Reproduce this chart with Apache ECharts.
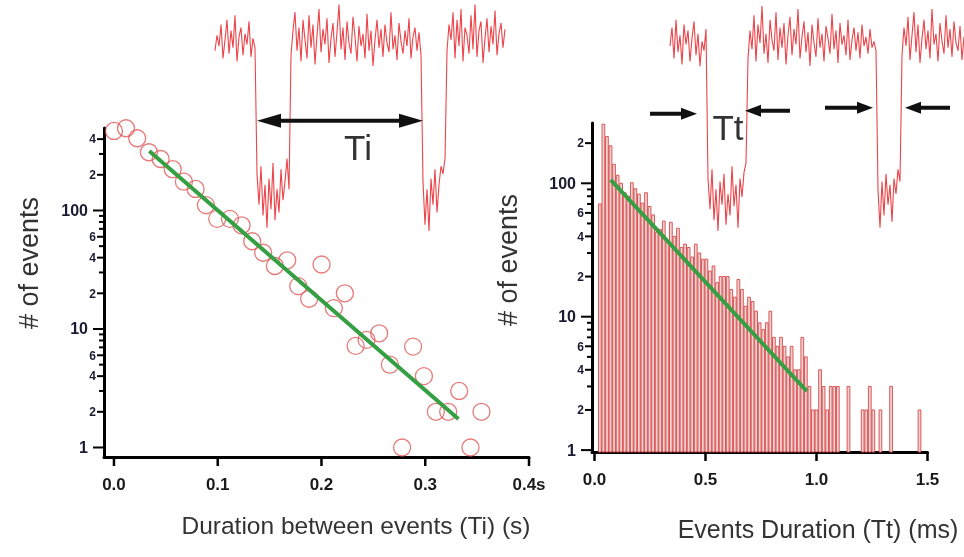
<!DOCTYPE html>
<html><head><meta charset="utf-8">
<script src="https://cdn.jsdelivr.net/npm/echarts@6/dist/echarts.min.js"></script>
<style>html,body{margin:0;padding:0;background:#fff}#c{width:964px;height:557px}</style>
</head><body><div id="c"></div>
<script>
// ---------------- DATA ----------------
// Left panel: duration between events (s) vs # of events
const tiDuration = [0.000,0.0116,0.0224,0.0337,0.0450,0.0566,0.0674,0.0787,0.0886,0.0995,0.1118,0.1230,0.1332,0.1438,0.1551,0.1670,0.2001,0.1776,0.1881,0.2119,0.2225,0.2329,0.2434,0.2556,0.2659,0.2883,0.2987,0.2777,0.3102,0.3221,0.3327,0.3436,0.3542];
const tiEvents   = [469,494,407,310,272,223,175,152,111,85,85,75,55,44,34,38,35,23,18,15,20,7.2,8.1,9.2,5.0,7.1,4.0,1,2,2,3,1,2];
const tiFitX = [0.034, 0.332];
const tiFitY = [318, 1.74];

// Right panel: histogram of event durations (ms)
const ttBinWidth = 0.016;
const ttCounts = [0,70,277,224,191,139,115,100,85,80,
                  101,91,83,71,85,67,58,43,45,52,
                  36,51,40,46,33,35,33,28,35,30,
                  27,27,22,24,18,20,20,20,16,14,
                  19,16,12,14,13,11,9,8,9,11,
                  7,6,7,6,5,6,4,4,7,5,
                  3,2,2,4,3,2,3,3,3,0,
                  0,3,0,0,0,2,2,3,2,0,
                  2,0,0,3,0,0,0,0,0,0,
                  0,2,0,0];
const ttFitX = [0.073, 0.956];
const ttFitY = [106, 2.77];

// Tick values and labels
const leftXTicks  = [0, 0.1, 0.2, 0.3, 0.4];
const leftXLabels = ['0.0','0.1','0.2','0.3','0.4s'];
const rightXTicks  = [0, 0.5, 1.0, 1.5];
const rightXLabels = ['0.0','0.5','1.0','1.5'];
const leftYTicks  = [1,2,3,4,5,6,7,8,9,10,20,30,40,50,60,70,80,90,100,200,300,400];
const leftYLabels = ['1','2','','4','','6','','','','10','2','','4','','6','','','','100','2','','4'];
const rightYTicks  = [1,2,3,4,5,6,7,8,9,10,20,30,40,50,60,70,80,90,100,200];
const rightYLabels = ['1','2','','4','','6','','','','10','2','','4','','6','','','','100','2'];

// Current traces (normalised current, open level ~1, blocked ~0), one sample per step
const trace1Current = [
 0.95,1.05,0.98,1.12,0.90,1.02,1.15,0.93,1.08,0.97,
 1.18,0.88,1.04,1.10,0.92,1.06,0.99,1.14,0.91,1.03,
 0.97,
 0.15,-0.05,0.20,-0.12,0.08,-0.20,0.12,-0.08,0.22,-0.15,
 0.05,-0.10,0.18,-0.02,0.10,0.25,0.05,
 0.92,1.08,1.20,0.95,1.10,0.88,1.15,1.02,0.90,1.18,
 0.97,1.12,0.86,1.05,1.22,0.94,1.09,0.99,1.16,0.87,
 1.03,1.13,0.91,1.07,1.25,0.96,1.10,0.89,1.14,1.00,
 0.93,1.17,1.04,0.88,1.11,0.98,1.06,0.90,1.19,0.95,
 1.08,0.85,1.02,1.15,0.97,1.09,0.91,1.12,1.00,0.94,
 1.20,0.96,1.05,0.89,1.13,1.01,0.93,1.08,0.98,1.16,
 0.90,1.04,1.10,0.95,1.07,0.92,
 0.10,-0.18,0.05,-0.22,0.12,-0.05,0.18,-0.10,0.08,0.20,0.15,0.25,
 0.95,1.12,1.02,1.20,0.90,1.15,0.98,1.22,0.88,1.10,
 1.05,0.93,1.18,0.96,1.25,0.91,1.08,1.14,0.87,1.03,
 1.16,0.94,1.11,0.99,1.21,0.92,1.06,1.13,0.97,1.09];
const trace2Current = [
 0.98,1.10,0.90,1.15,0.94,1.05,0.86,1.12,0.99,1.08,
 0.88,1.03,1.14,0.92,1.06,0.85,1.01,0.95,1.09,
 0.12,-0.08,0.18,-0.15,0.05,-0.22,0.10,-0.05,0.15,-0.18,
 0.02,-0.12,0.20,-0.06,0.08,-0.20,0.12,0.00,0.16,0.22,
 0.90,1.08,0.96,1.18,0.88,1.12,1.00,1.24,0.93,1.06,
 0.87,1.15,1.02,0.95,1.20,0.89,1.10,0.97,1.13,0.86,
 1.05,1.17,0.92,1.09,0.99,1.22,0.90,1.04,1.14,0.94,
 1.07,0.85,1.12,1.00,0.91,1.16,0.97,1.06,0.88,1.11,
 1.03,0.93,1.19,0.96,1.08,0.87,1.13,0.99,1.05,0.92,
 1.15,0.89,1.02,1.10,0.95,1.07,0.90,1.12,0.98,1.04,
 0.93,1.09,0.97,1.01,0.95,
 0.05,-0.20,0.10,-0.12,0.15,-0.05,0.08,-0.16,0.12,0.02,0.18,0.10,
 0.92,1.10,0.98,1.17,0.89,1.05,1.20,0.94,1.12,0.87,
 1.03,1.15,0.96,1.08,0.90,1.22,0.99,1.06,0.88,1.13,
 1.01,0.93,1.18,0.97,1.09,0.91,1.14,1.00,0.95,1.11,
 0.89,1.04];

// Annotation arrows: [from sample, to sample (tip), level, double-headed]
const tiArrows = [[21, 104, 0.495, 1]];
const ttArrows = [[-10, 13.5, 0.54, 0], [60, 37.5, 0.56, 0], [77.5, 101.5, 0.58, 0], [140, 117.5, 0.58, 0]];
const tiText = [[71.5, 0.30, 'Ti']];
const ttText = [[29, 0.43, 'Tt']];

// ---------------- CHART ----------------
const lg = v => Math.log10(v);
const L = {xMin:-0.0096, xMax:0.4, yMin:-0.0802, yMax:2.696};
const R = {xMin:-0.0113, xMax:1.5, yMin:-0.0142, yMax:2.452};
const FONT = '"Liberation Sans", Arial, sans-serif';

function yTickSeries(idx, vals, labels, xMin) {
  return {type:'custom', xAxisIndex:idx, yAxisIndex:idx, clip:false, silent:true, z:6,
    data: vals.map(v => [xMin, lg(v)]),
    renderItem(params, api) {
      const lab = labels[params.dataIndex];
      const p = api.coord([api.value(0), api.value(1)]);
      const major = (lab === '1' || lab === '10' || lab === '100');
      const len = major ? 11 : (lab ? 7 : 5);
      const ch = [{type:'line', shape:{x1:p[0]-len, y1:p[1], x2:p[0], y2:p[1]}, style:{stroke:'#000', lineWidth:2}}];
      if (lab) ch.push({type:'text', style:{text:lab, x:p[0]-len-(major?5:1), y:p[1]+1, align:'right', verticalAlign:'middle',
        font:'bold ' + (major?16:12) + 'px ' + FONT, fill:'#1a1a30'}});
      return {type:'group', children:ch};
    }};
}
function xTickSeries(idx, vals, labels, yMin) {
  return {type:'custom', xAxisIndex:idx, yAxisIndex:idx, clip:false, silent:true, z:6,
    data: vals.map(v => [v, yMin]),
    renderItem(params, api) {
      const p = api.coord([api.value(0), api.value(1)]);
      return {type:'group', children:[
        {type:'line', shape:{x1:p[0], y1:p[1], x2:p[0], y2:p[1]+9}, style:{stroke:'#000', lineWidth:2.5}},
        {type:'text', style:{text:labels[params.dataIndex], x:p[0], y:p[1]+28, align:'center', verticalAlign:'middle',
          font:'bold 17px ' + FONT, fill:'#1a1a1a'}}
      ]};
    }};
}
function arrowSeries(idx, rows, headL, headW) {
  return {type:'custom', xAxisIndex:idx, yAxisIndex:idx, clip:false, silent:true, z:7,
    data: rows,
    renderItem(params, api) {
      const a = api.coord([api.value(0), api.value(2)]);
      const b = api.coord([api.value(1), api.value(2)]);
      const dbl = api.value(3) === 1;
      const dx = b[0]-a[0], dy = b[1]-a[1], d = Math.hypot(dx, dy) || 1;
      const ux = dx/d, uy = dy/d, nx = -uy, ny = ux;
      const head = (tip, sx, sy) => ({type:'polygon', shape:{points:[
        tip, [tip[0]-sx*headL + nx*headW, tip[1]-sy*headL + ny*headW],
        [tip[0]-sx*headL - nx*headW, tip[1]-sy*headL - ny*headW]]}, style:{fill:'#111'}});
      const start = dbl ? [a[0]+ux*headL*0.8, a[1]+uy*headL*0.8] : a;
      const end = [b[0]-ux*headL*0.8, b[1]-uy*headL*0.8];
      const ch = [{type:'line', shape:{x1:start[0], y1:start[1], x2:end[0], y2:end[1]}, style:{stroke:'#111', lineWidth:4}}, head(b, ux, uy)];
      if (dbl) ch.push(head(a, -ux, -uy));
      return {type:'group', children:ch};
    }};
}
function textSeries(idx, rows) {
  return {type:'custom', xAxisIndex:idx, yAxisIndex:idx, clip:false, silent:true, z:7,
    data: rows.map(r => [r[0], r[1]]),
    renderItem(params, api) {
      const p = api.coord([api.value(0), api.value(1)]);
      return {type:'text', style:{text:rows[params.dataIndex][2], x:p[0], y:p[1], align:'center', verticalAlign:'middle',
        font:'35px ' + FONT, fill:'#333'}};
    }};
}

const axisLine = {show:true, onZero:false, lineStyle:{color:'#000', width:3}};
const hidden = {axisTick:{show:false}, axisLabel:{show:false}, splitLine:{show:false}};

const option = {
  animation:false,
  backgroundColor:'#fff',
  grid:[
    {left:104, top:128, width:425, height:329},
    {left:592, top:123, width:335.5, height:329},
    {left:215, top:0, width:290, height:250},
    {left:640, top:0, width:324, height:250}
  ],
  xAxis:[
    Object.assign({gridIndex:0, type:'value', min:L.xMin, max:L.xMax, axisLine}, hidden),
    Object.assign({gridIndex:1, type:'value', min:R.xMin, max:R.xMax, axisLine}, hidden),
    {gridIndex:2, type:'value', min:0, max:trace1Current.length-1, show:false},
    {gridIndex:3, type:'value', min:-15, max:trace2Current.length-1, show:false}
  ],
  yAxis:[
    Object.assign({gridIndex:0, type:'value', min:L.yMin, max:L.yMax, axisLine}, hidden),
    Object.assign({gridIndex:1, type:'value', min:R.yMin, max:R.yMax, axisLine}, hidden),
    {gridIndex:2, type:'value', min:-0.344, max:1.279, show:false},
    {gridIndex:3, type:'value', min:-0.344, max:1.279, show:false}
  ],
  graphic:[
    {type:'text', x:31, y:263, rotation:Math.PI/2, style:{text:'# of events', font:'27px ' + FONT, fill:'#333', align:'center', verticalAlign:'middle'}},
    {type:'text', x:510, y:260, rotation:Math.PI/2, style:{text:'# of events', font:'27px ' + FONT, fill:'#333', align:'center', verticalAlign:'middle'}},
    {type:'text', x:356, y:527, style:{text:'Duration between events (Ti) (s)', font:'24.5px ' + FONT, fill:'#333', align:'center', verticalAlign:'middle'}},
    {type:'text', x:818, y:531, style:{text:'Events Duration (Tt) (ms)', font:'25px ' + FONT, fill:'#333', align:'center', verticalAlign:'middle'}}
  ],
  series:[
    {type:'scatter', xAxisIndex:0, yAxisIndex:0, symbol:'circle', symbolSize:17, z:3,
      itemStyle:{color:'rgba(0,0,0,0)', borderColor:'#e05858', borderWidth:1.3},
      data: tiDuration.map((x,i) => [x, lg(tiEvents[i])])},
    {type:'line', xAxisIndex:0, yAxisIndex:0, symbol:'none', z:4,
      lineStyle:{color:'#35a043', width:4},
      data: tiFitX.map((x,i) => [x, lg(tiFitY[i])])},
    {type:'custom', xAxisIndex:1, yAxisIndex:1, z:2, silent:true,
      data: ttCounts.map((c,k) => [k*ttBinWidth, (k+1)*ttBinWidth, c]).filter(r => r[2] > 0),
      renderItem(params, api) {
        const top = api.coord([api.value(0), lg(api.value(2))]);
        const bot = api.coord([api.value(1), R.yMin]);
        return {type:'rect', shape:{x:top[0]+0.4, y:top[1], width:bot[0]-top[0]-0.8, height:bot[1]-top[1]},
          style:{fill:'#f6d2d2', stroke:'#d44848', lineWidth:0.9}};
      }},
    {type:'line', xAxisIndex:1, yAxisIndex:1, symbol:'none', z:4,
      lineStyle:{color:'#35a043', width:4},
      data: ttFitX.map((x,i) => [x, lg(ttFitY[i])])},
    yTickSeries(0, leftYTicks, leftYLabels, L.xMin),
    yTickSeries(1, rightYTicks, rightYLabels, R.xMin),
    xTickSeries(0, leftXTicks, leftXLabels, L.yMin),
    xTickSeries(1, rightXTicks, rightXLabels, R.yMin),
    {type:'line', xAxisIndex:2, yAxisIndex:2, symbol:'none', z:5,
      lineStyle:{color:'#ec4449', width:1.1},
      data: trace1Current.map((v,i) => [i, v])},
    {type:'line', xAxisIndex:3, yAxisIndex:3, symbol:'none', z:5,
      lineStyle:{color:'#ec4449', width:1.1},
      data: trace2Current.map((v,i) => [i, v])},
    arrowSeries(2, tiArrows, 24, 7),
    arrowSeries(3, ttArrows, 16, 6),
    textSeries(2, tiText),
    textSeries(3, ttText)
  ]
};
echarts.init(document.getElementById('c')).setOption(option);
</script></body></html>
